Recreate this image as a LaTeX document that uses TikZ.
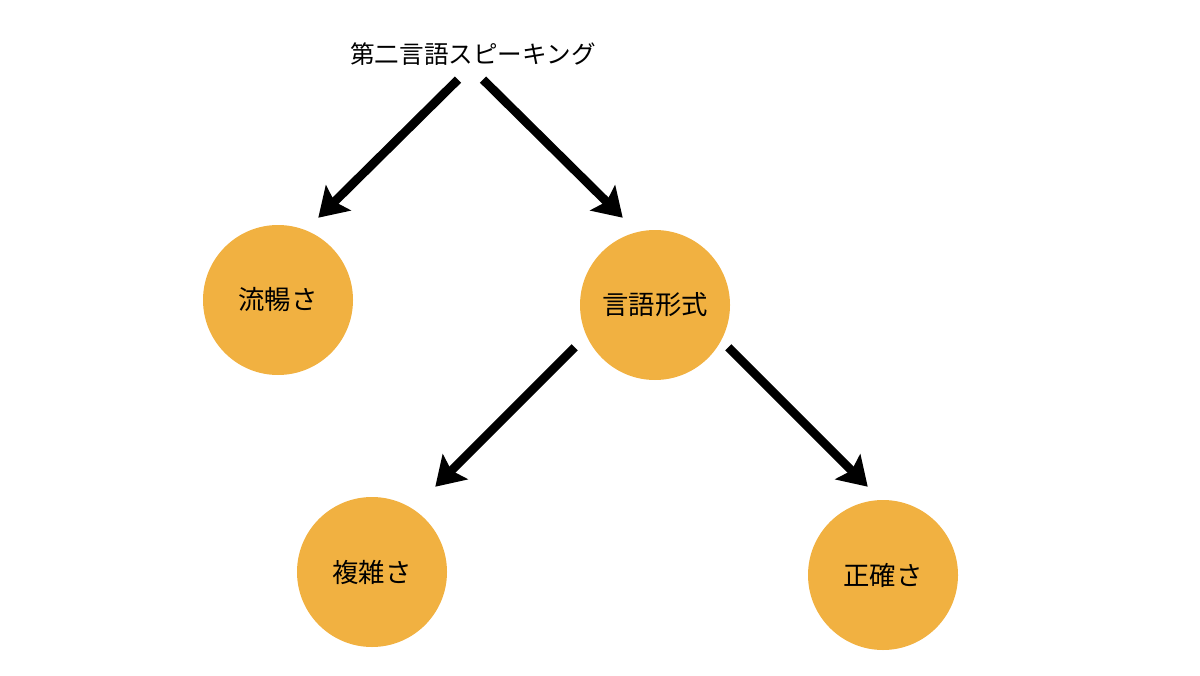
\documentclass[tikz,border=0pt]{standalone}
\usepackage{fontspec}
\setmainfont{Noto Sans CJK JP}
\usetikzlibrary{arrows.meta}
\definecolor{bubble}{HTML}{F1B141}
\tikzset{
  topic/.style={circle, fill=bubble, minimum size=3cm, inner sep=0pt, font=\fontsize{15}{17}\selectfont},
  arrow/.style={line width=5pt, -{Stealth[length=16pt,width=20pt,inset=3pt]}}
}
\begin{document}
\begin{tikzpicture}
\useasboundingbox (0,0) rectangle (24,13.5);
\node (title) at (9.46,12.42) {\fontsize{14}{16}\selectfont 第二言語スピーキング};
\node[topic] (fluency) at (5.56,7.50) {流暢さ};
\node[topic] (form) at (13.10,7.40) {言語形式};
\node[topic] (complexity) at (7.44,2.06) {複雑さ};
\node[topic] (accuracy) at (17.66,2.00) {正確さ};
\draw[arrow] ([xshift=-0.3cm,yshift=-0.16cm]title.south) -- ([shift={(-0.26,0.58)}]fluency.north east);
\draw[arrow] ([xshift=0.2cm,yshift=-0.16cm]title.south) -- ([shift={(0.42,0.68)}]form.north west);
\draw[arrow] ([shift={(-0.54,0.22)}]form.south west) -- ([shift={(0.2,0.64)}]complexity.north east);
\draw[arrow] ([shift={(0.40,0.22)}]form.south east) -- ([shift={(0.76,0.70)}]accuracy.north west);
\end{tikzpicture}
\end{document}
